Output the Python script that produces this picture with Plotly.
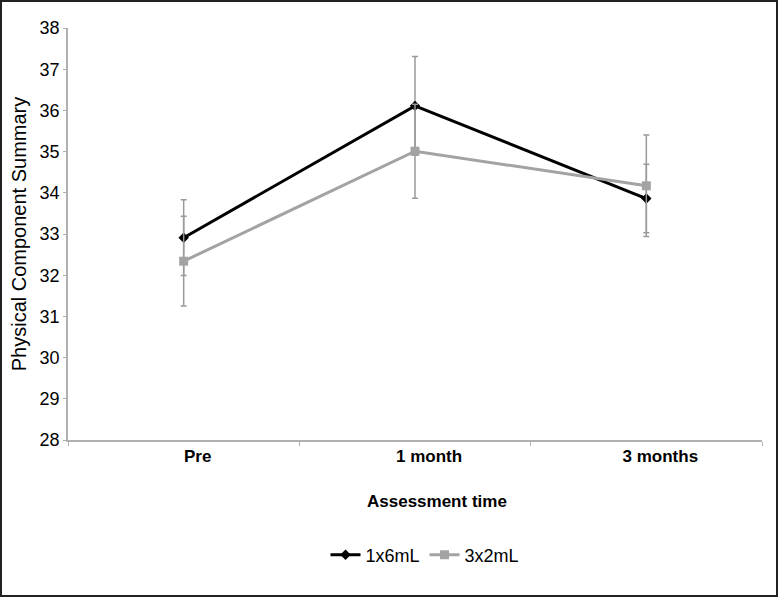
import plotly.graph_objects as go

categories = ["Pre", "1 month", "3 months"]
series_names = ["1x6mL", "3x2mL"]
mean_1x6 = [32.91, 36.11, 33.86]
err_1x6 = [0.92, 1.20, 0.83]
mean_3x2 = [32.34, 35.01, 34.17]
err_3x2 = [1.09, 1.14, 1.23]
y_ticks = [28, 29, 30, 31, 32, 33, 34, 35, 36, 37, 38]

W, H = 778, 597
L, R, T, B = 68, 16, 28, 157
pw, ph = W - L - R, H - T - B
FONT = "Liberation Sans, Arial, Helvetica, sans-serif"

fig = go.Figure()
fig.add_trace(go.Scatter(
    x=categories, y=mean_1x6, name=series_names[0], mode="lines+markers",
    line=dict(color="#000000", width=3),
    marker=dict(symbol="diamond", size=8, color="#000000"),
    error_y=dict(type="data", array=err_1x6, visible=True, color="#9a9a9a", thickness=1.5, width=3),
))
fig.add_trace(go.Scatter(
    x=categories, y=mean_3x2, name=series_names[1], mode="lines+markers",
    line=dict(color="#a3a3a3", width=3),
    marker=dict(symbol="square", size=9, color="#a3a3a3"),
    error_y=dict(type="data", array=err_3x2, visible=True, color="#9a9a9a", thickness=1.5, width=3),
))

fig.update_layout(
    width=W, height=H,
    margin=dict(l=L, r=R, t=T, b=B),
    paper_bgcolor="white", plot_bgcolor="white",
    font=dict(family=FONT, color="#000000", size=15),
    showlegend=True,
    legend=dict(orientation="h", x=(425 - L) / pw, xanchor="center",
                y=(440 - 555) / ph, yanchor="middle",
                font=dict(size=18), itemwidth=30, tracegroupgap=0),
    xaxis=dict(
        type="category", range=[-0.5, 2.5],
        showline=True, linecolor="#b0b0b0", linewidth=1.5,
        ticks="outside", tickson="boundaries", ticklen=4, tickcolor="#b0b0b0",
        showgrid=False, zeroline=False,
        tickfont=dict(size=17, family=FONT, weight="bold"),
        ticklabelshift=14,
    ),
    yaxis=dict(
        range=[28, 38], tickvals=y_ticks,
        showline=True, linecolor="#b0b0b0", linewidth=1.5,
        ticks="outside", ticklen=3, tickcolor="#b0b0b0",
        showgrid=False, zeroline=False,
        tickfont=dict(size=18),
        title=dict(text="Physical Component Summary", font=dict(size=20), standoff=8),
    ),
)

fig.add_annotation(text="<b>Assessment time</b>", xref="paper", yref="paper",
                   x=(437 - L) / pw, y=(440 - 501) / ph, xanchor="center", yanchor="middle",
                   showarrow=False, font=dict(size=17, family=FONT))

fig.add_shape(type="rect", xref="paper", yref="paper",
              x0=-(L - 1) / pw, x1=1 + (R - 1) / pw,
              y0=-(B - 1) / ph, y1=1 + (T - 1) / ph,
              line=dict(color="#222222", width=2), fillcolor="rgba(0,0,0,0)", layer="above")

fig.write_html("out.html", config={"displayModeBar": False},
               post_script="document.body.style.margin='0';")
